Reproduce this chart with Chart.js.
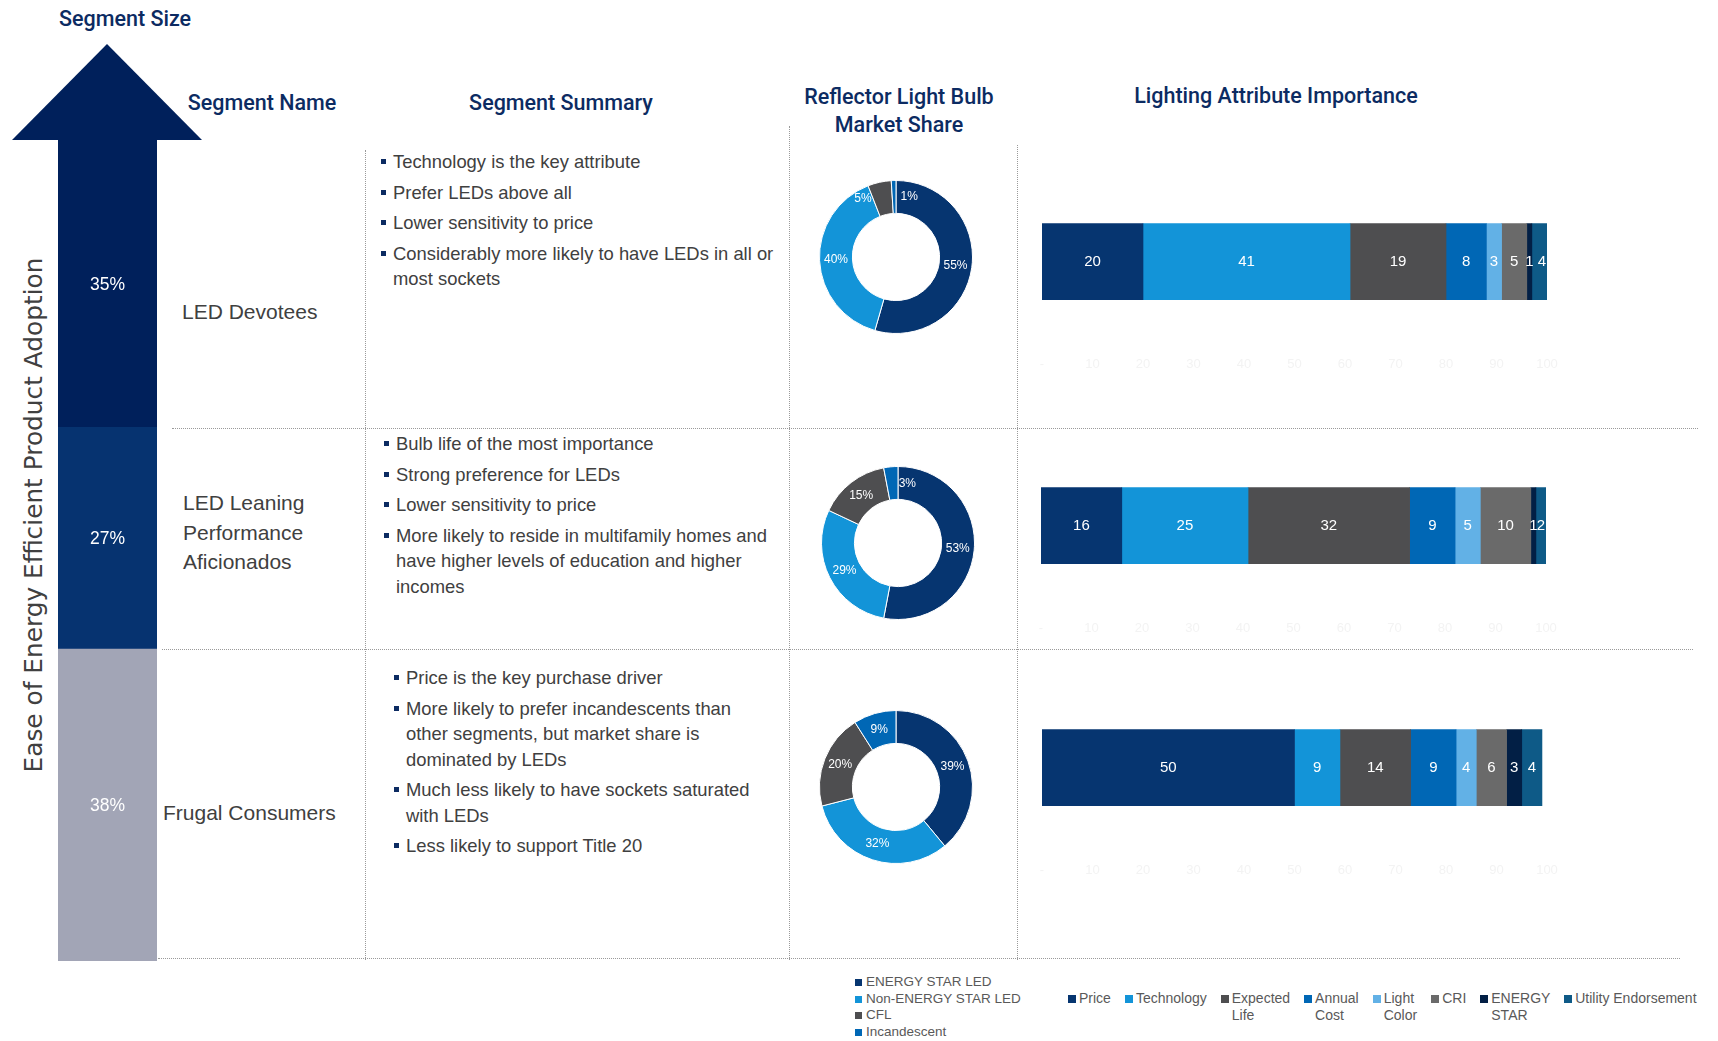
<!DOCTYPE html>
<html>
<head>
<meta charset="utf-8">
<title>Lighting Segments</title>
<script src="https://cdn.jsdelivr.net/npm/chart.js@4.4.1/dist/chart.umd.min.js"></script>
<style>
  html, body { margin: 0; padding: 0; background: #fff; }
  body {
    position: relative; width: 1718px; height: 1041px; overflow: hidden;
    font-family: 'Liberation Sans', Arial, sans-serif; color: #404040;
  }
  .hdr {
    position: absolute; transform: translateX(-50%);
    font-family: Roboto, 'Liberation Sans', sans-serif; font-weight: 500;
    font-size: 21.5px; line-height: 28px; color: #0c2b62; text-align: center; white-space: nowrap;
  }
  .name { position: absolute; font-size: 21px; line-height: 29.5px; color: #404040; }
  .vline { position: absolute; width: 0; border-left: 1px dotted #9a9a9a; }
  .hline { position: absolute; height: 0; border-top: 1px dotted #9a9a9a; }
  ul.summary {
    position: absolute; margin: 0; padding: 0; list-style: none;
    font-size: 18.4px; line-height: 25.5px; color: #404040;
  }
  ul.summary li { position: relative; margin-bottom: 5px; }
  ul.summary li::before {
    content: ''; position: absolute; left: -12px; top: 10px;
    width: 5px; height: 5px; background: #0c2b62;
  }
  canvas { position: absolute; }
  #arrowHead {
    position: absolute; left: 12px; top: 44px; width: 190px; height: 96px;
    background: #00205b; clip-path: polygon(50% 0, 100% 100%, 0 100%);
  }
  #adoption {
    position: absolute; left: 33px; top: 515px;
    transform: translate(-50%, -50%) rotate(-90deg);
    font-family: 'DejaVu Sans', sans-serif; font-size: 24.8px; color: #404040; white-space: nowrap;
  }
  .legend { position: absolute; color: #595959; }
  #shareLegend { left: 855px; top: 974px; font-size: 13.5px; line-height: 16.7px; }
  #shareLegend .item { display: flex; align-items: center; }
  #attrLegend { left: 1068px; top: 990px; font-size: 14px; line-height: 17px; display: flex; gap: 14px; }
  #attrLegend .item { display: flex; align-items: flex-start; }
  .mark { flex: none; width: 7px; height: 7px; margin-right: 4px; }
  #attrLegend .mark { width: 8px; height: 8px; margin-top: 4.5px; margin-right: 3px; }
</style>
</head>
<body>

<div class="hdr" style="left:125px; top:5px;">Segment Size</div>
<div class="hdr" style="left:262px; top:89px;">Segment Name</div>
<div class="hdr" style="left:561px; top:89px;">Segment Summary</div>
<div class="hdr" style="left:899px; top:83px;">Reflector Light Bulb<br>Market Share</div>
<div class="hdr" style="left:1276px; top:82px;">Lighting Attribute Importance</div>

<div id="arrowHead"></div>
<canvas id="shaft" width="99" height="821" style="left:58px; top:140px;"></canvas>
<div id="adoption">Ease of Energy Efficient Product Adoption</div>

<div class="vline" style="left:365px; top:150px; height:810px;"></div>
<div class="vline" style="left:789px; top:126px; height:834px;"></div>
<div class="vline" style="left:1017px; top:145px; height:815px;"></div>
<div class="hline" style="left:172px; top:428px; width:1526px;"></div>
<div class="hline" style="left:162px; top:649px; width:1531px;"></div>
<div class="hline" style="left:158px; top:958px; width:1522px;"></div>

<div class="name" id="name0" style="left:182px; top:297px;"></div>
<div class="name" id="name1" style="left:183px; top:488px; width:140px;"></div>
<div class="name" id="name2" style="left:163px; top:798px;"></div>

<ul class="summary" id="summary0" style="left:393px; top:149px; width:392px;"></ul>
<ul class="summary" id="summary1" style="left:396px; top:431px; width:392px;"></ul>
<ul class="summary" id="summary2" style="left:406px; top:665px; width:360px;"></ul>

<canvas id="share0" width="160" height="160" style="left:816px; top:177px;"></canvas>
<canvas id="share1" width="160" height="160" style="left:818px; top:463px;"></canvas>
<canvas id="share2" width="160" height="160" style="left:816px; top:707px;"></canvas>

<canvas id="attr0" width="565" height="205" style="left:1012px; top:173px;"></canvas>
<canvas id="attr1" width="565" height="205" style="left:1011px; top:437px;"></canvas>
<canvas id="attr2" width="565" height="205" style="left:1012px; top:679px;"></canvas>

<div class="legend" id="shareLegend"></div>
<div class="legend" id="attrLegend"></div>

<script>
// segments, top of the arrow first
const segments = ['LED Devotees', 'LED Leaning Performance Aficionados', 'Frugal Consumers'];
const segmentSize = [35, 27, 38];

const summaries = [
    ['Technology is the key attribute',
     'Prefer LEDs above all',
     'Lower sensitivity to price',
     'Considerably more likely to have LEDs in all or most sockets'],
    ['Bulb life of the most importance',
     'Strong preference for LEDs',
     'Lower sensitivity to price',
     'More likely to reside in multifamily homes and have higher levels of education and higher incomes'],
    ['Price is the key purchase driver',
     'More likely to prefer incandescents than other segments, but market share is dominated by LEDs',
     'Much less likely to have sockets saturated with LEDs',
     'Less likely to support Title 20']
];

// reflector bulb market share (%)
const bulbTypes = ['ENERGY STAR LED', 'Non-ENERGY STAR LED', 'CFL', 'Incandescent'];
const shareDevotees = [55, 40, 5, 1];
const shareLeaning = [53, 29, 15, 3];
const shareFrugal = [39, 32, 20, 9];

// attribute importance
const attributes = ['Price', 'Technology', 'Expected Life', 'Annual Cost', 'Light Color', 'CRI', 'ENERGY STAR', 'Utility Endorsement'];
const importanceDevotees = [20, 41, 19, 8, 3, 5, 1, 4];
const importanceLeaning = [16, 25, 32, 9, 5, 10, 1, 2];
const importanceFrugal = [50, 9, 14, 9, 4, 6, 3, 4];

const SIZE_COLORS = ['#00205b', '#063370', '#a2a5b6'];
const BULB_COLORS = ['#063570', '#1394d8', '#4e4e50', '#0067b5'];
const ATTR_COLORS = ['#063570', '#1394d8', '#4e4e50', '#0067b5', '#62b1e6', '#6a6a6a', '#021f45', '#0e5a87'];

Chart.defaults.font.family = "'Liberation Sans', Arial, sans-serif";

// white value labels in the middle of every bar / slice
const valueLabels = {
    id: 'valueLabels',
    afterDatasetsDraw(chart, args, opts) {
        if (!opts.size) return;
        const ctx = chart.ctx;
        ctx.save();
        ctx.fillStyle = '#ffffff';
        ctx.font = opts.size + "px 'Liberation Sans', Arial, sans-serif";
        ctx.textAlign = 'center';
        ctx.textBaseline = 'middle';
        chart.data.datasets.forEach((ds, i) => {
            const meta = chart.getDatasetMeta(i);
            const total = ds.data.reduce((a, b) => a + b, 0);
            meta.data.forEach((el, j) => {
                const v = ds.data[j];
                const p = el.getCenterPoint();
                let dx = 0;
                // thin donut slices: move the label off to the side
                if (chart.config.type === 'doughnut' && v / total < 0.06) {
                    dx = j === ds.data.length - 1 ? 15 : -20;
                }
                ctx.fillText(v + (opts.suffix || ''), p.x + dx, p.y + (opts.dy || 0));
            });
        });
        ctx.restore();
    }
};
Chart.register(valueLabels);

// names and bullet lists
segments.forEach((name, i) => {
    document.getElementById('name' + i).textContent = name;
    const ul = document.getElementById('summary' + i);
    summaries[i].forEach(text => {
        const li = document.createElement('li');
        li.textContent = text;
        ul.appendChild(li);
    });
});

// arrow shaft = segment sizes stacked, bottom segment first
const shaftSets = segments.map((name, i) => ({
    label: name,
    data: [segmentSize[i]],
    backgroundColor: SIZE_COLORS[i],
    borderWidth: 0,
    barPercentage: 1,
    categoryPercentage: 1
})).reverse();

new Chart(document.getElementById('shaft'), {
    type: 'bar',
    data: { labels: [''], datasets: shaftSets },
    options: {
        responsive: false,
        animation: false,
        layout: { padding: 0 },
        scales: {
            x: { stacked: true, display: false },
            y: { stacked: true, display: false, min: 0, max: 100 }
        },
        plugins: {
            legend: { display: false },
            tooltip: { enabled: false },
            valueLabels: { size: 17.5, suffix: '%', dy: 1 }
        }
    }
});

function drawShareChart(id, values) {
    new Chart(document.getElementById(id), {
        type: 'doughnut',
        data: {
            labels: bulbTypes,
            datasets: [{
                data: values,
                backgroundColor: BULB_COLORS,
                borderColor: '#ffffff',
                borderWidth: 1
            }]
        },
        options: {
            responsive: false,
            animation: false,
            cutout: '57%',
            layout: { padding: 3 },
            plugins: {
                legend: { display: false },
                tooltip: { enabled: false },
                valueLabels: { size: 12, suffix: '%' }
            }
        }
    });
}

function drawImportanceChart(id, values) {
    const datasets = attributes.map((name, idx) => ({
        label: name,
        data: [values[idx]],
        backgroundColor: ATTR_COLORS[idx],
        borderWidth: 0,
        barThickness: 76
    }));

    new Chart(document.getElementById(id), {
        type: 'bar',
        data: { labels: [''], datasets: datasets },
        options: {
            indexAxis: 'y',
            responsive: false,
            animation: false,
            layout: { padding: { left: 30, right: 30, top: 0, bottom: 0 } },
            scales: {
                x: {
                    stacked: true,
                    min: 0,
                    max: 100,
                    grid: { display: false, drawTicks: false },
                    border: { display: false },
                    ticks: {
                        stepSize: 10,
                        padding: 6,
                        color: '#f3f3f3',
                        font: { size: 13 },
                        callback: v => v === 0 ? '-' : v
                    }
                },
                y: { stacked: true, display: false }
            },
            plugins: {
                legend: { display: false },
                tooltip: { enabled: false },
                valueLabels: { size: 15 }
            }
        }
    });
}

drawShareChart('share0', shareDevotees);
drawShareChart('share1', shareLeaning);
drawShareChart('share2', shareFrugal);

drawImportanceChart('attr0', importanceDevotees);
drawImportanceChart('attr1', importanceLeaning);
drawImportanceChart('attr2', importanceFrugal);

// legends
function legendItem(name, color) {
    const item = document.createElement('div');
    item.className = 'item';
    const mark = document.createElement('span');
    mark.className = 'mark';
    mark.style.background = color;
    const text = document.createElement('span');
    text.textContent = name;
    item.appendChild(mark);
    item.appendChild(text);
    return [item, text];
}

const shareLegend = document.getElementById('shareLegend');
bulbTypes.forEach((name, i) => shareLegend.appendChild(legendItem(name, BULB_COLORS[i])[0]));

const attrLegend = document.getElementById('attrLegend');
attributes.forEach((name, i) => {
    const [item, text] = legendItem(name, ATTR_COLORS[i]);
    // every label but the last one breaks at its spaces
    text.style.width = i < attributes.length - 1 ? 'min-content' : 'auto';
    text.style.whiteSpace = i < attributes.length - 1 ? 'normal' : 'nowrap';
    attrLegend.appendChild(item);
});
</script>
</body>
</html>
